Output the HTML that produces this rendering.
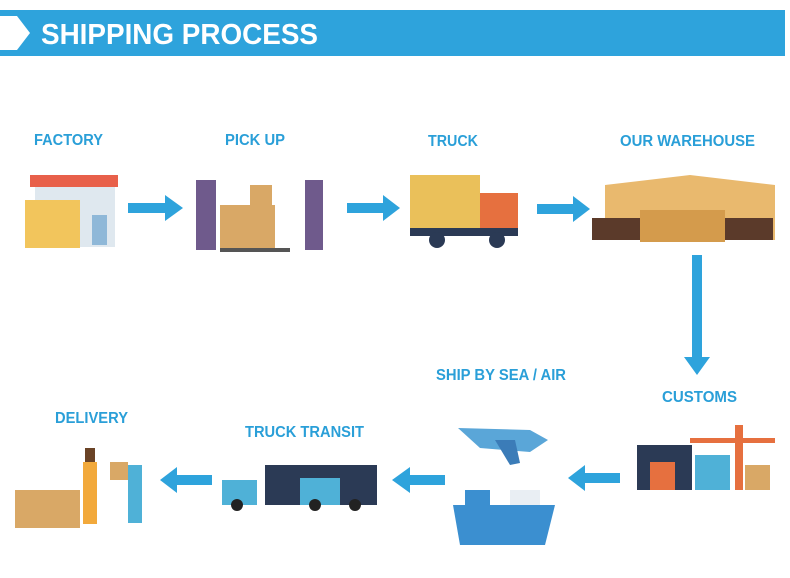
<!DOCTYPE html>
<html><head><meta charset="utf-8"><style>
html,body{margin:0;padding:0;background:#fff;width:790px;height:578px;overflow:hidden}
svg{display:block}
.l{font-family:"Liberation Sans",sans-serif;font-weight:bold;font-size:16px;fill:#2a9fd8}
</style></head><body>
<svg width="790" height="578" viewBox="0 0 790 578" xmlns="http://www.w3.org/2000/svg">
<rect x="0" y="10" width="785" height="46" fill="#2ea3dc"/>
<polygon points="0,16 17,16 30,33 17,50 0,50" fill="#fff"/>
<text x="41" y="44" font-family="Liberation Sans,sans-serif" font-weight="bold" font-size="29" fill="#fff" textLength="277" lengthAdjust="spacingAndGlyphs">SHIPPING PROCESS</text>

<text class="l" x="34" y="145" textLength="69" lengthAdjust="spacingAndGlyphs">FACTORY</text>
<text class="l" x="225" y="145" textLength="60" lengthAdjust="spacingAndGlyphs">PICK UP</text>
<text class="l" x="428" y="146" textLength="50" lengthAdjust="spacingAndGlyphs">TRUCK</text>
<text class="l" x="620" y="146" textLength="135" lengthAdjust="spacingAndGlyphs">OUR WAREHOUSE</text>
<text class="l" x="662" y="402" textLength="75" lengthAdjust="spacingAndGlyphs">CUSTOMS</text>
<text class="l" x="436" y="380" textLength="130" lengthAdjust="spacingAndGlyphs">SHIP BY SEA / AIR</text>
<text class="l" x="245" y="437" textLength="119" lengthAdjust="spacingAndGlyphs">TRUCK TRANSIT</text>
<text class="l" x="55" y="423" textLength="73" lengthAdjust="spacingAndGlyphs">DELIVERY</text>

<g fill="#2ea3dc">
<polygon points="128,203 165,203 165,195 183,208 165,221 165,213 128,213"/>
<polygon points="347,203 383,203 383,195 400,208 383,221 383,213 347,213"/>
<polygon points="537,204 573,204 573,196 590,209 573,222 573,214 537,214"/>
<polygon points="692,255 702,255 702,357 710,357 697,375 684,357 692,357"/>
<polygon points="620,473 585,473 585,465 568,478 585,491 585,483 620,483"/>
<polygon points="445,475 410,475 410,467 392,480 410,493 410,485 445,485"/>
<polygon points="212,475 177,475 177,467 160,480 177,493 177,485 212,485"/>
</g>

<rect x="30" y="175" width="88" height="12" fill="#e8604a"/>
<rect x="35" y="187" width="80" height="60" fill="#dfe8ef"/>
<rect x="25" y="200" width="55" height="48" fill="#f2c55c"/>
<rect x="92" y="215" width="15" height="30" fill="#8fb8d8"/>
<rect x="220" y="205" width="55" height="45" fill="#d9a866"/>
<rect x="250" y="185" width="22" height="20" fill="#d9a866"/>
<rect x="196" y="180" width="20" height="70" fill="#6f5a8c"/>
<rect x="305" y="180" width="18" height="70" fill="#6f5a8c"/>
<rect x="220" y="248" width="70" height="4" fill="#555"/>
<rect x="410" y="175" width="70" height="60" fill="#eac05a"/>
<rect x="480" y="193" width="38" height="40" fill="#e6703f"/>
<rect x="410" y="228" width="108" height="8" fill="#2b3a55"/>
<circle cx="437" cy="240" r="8" fill="#2b3a55"/><circle cx="497" cy="240" r="8" fill="#2b3a55"/>
<polygon points="605,185 690,175 775,185 775,240 605,240" fill="#e9b96e"/>
<rect x="640" y="210" width="85" height="32" fill="#d49b4c"/>
<rect x="592" y="218" width="48" height="22" fill="#5b3a2a"/>
<rect x="725" y="218" width="48" height="22" fill="#5b3a2a"/>
<rect x="637" y="445" width="55" height="45" fill="#2b3a55"/>
<rect x="650" y="462" width="25" height="28" fill="#e6703f"/>
<rect x="695" y="455" width="35" height="35" fill="#4fb1d7"/>
<rect x="735" y="425" width="8" height="65" fill="#e6703f"/>
<rect x="690" y="438" width="85" height="5" fill="#e6703f"/>
<rect x="745" y="465" width="25" height="25" fill="#d9a866"/>
<polygon points="458,428 530,430 548,440 530,452 480,448" fill="#5aa6d8"/>
<polygon points="495,440 510,465 520,463 515,440" fill="#3b7cb8"/>
<rect x="465" y="490" width="25" height="15" fill="#3b8fd0"/>
<polygon points="453,505 555,505 545,545 460,545" fill="#3b8fd0"/>
<rect x="510" y="490" width="30" height="15" fill="#e9eef3"/>
<rect x="265" y="465" width="112" height="40" fill="#2b3a55"/>
<rect x="222" y="480" width="35" height="25" fill="#4fb1d7"/>
<rect x="300" y="478" width="40" height="27" fill="#4fb1d7"/>
<circle cx="237" cy="505" r="6" fill="#222"/><circle cx="315" cy="505" r="6" fill="#222"/><circle cx="355" cy="505" r="6" fill="#222"/>
<rect x="15" y="490" width="65" height="38" fill="#d9a866"/>
<rect x="83" y="462" width="14" height="62" fill="#f2a93b"/>
<rect x="85" y="448" width="10" height="14" fill="#6a4326"/>
<rect x="128" y="465" width="14" height="58" fill="#4fb1d7"/>
<rect x="110" y="462" width="18" height="18" fill="#d9a866"/>
</svg>
</body></html>
